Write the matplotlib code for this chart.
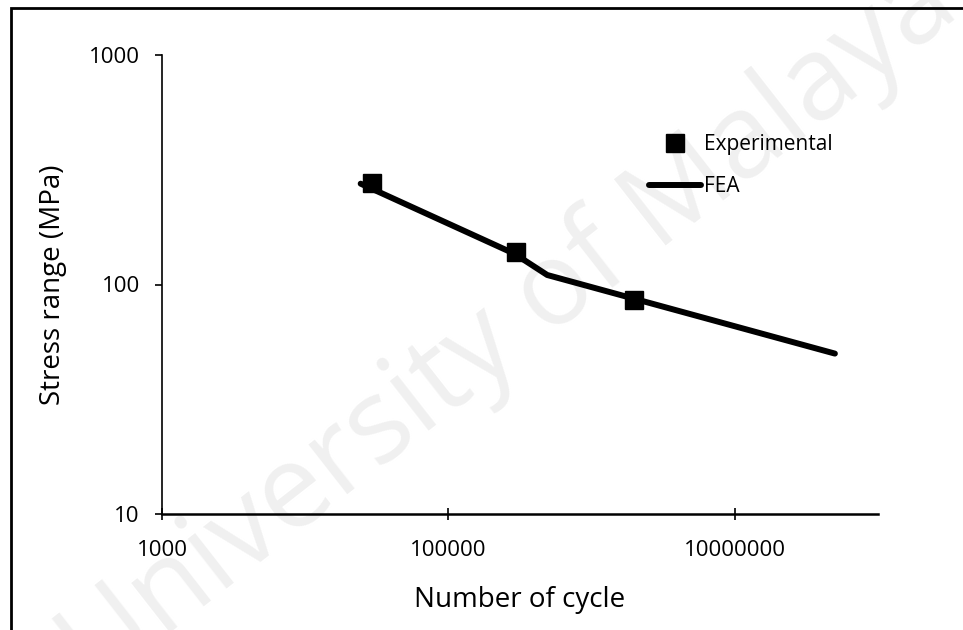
import matplotlib.pyplot as plt
from matplotlib.patches import Rectangle
from matplotlib.ticker import FixedLocator, FixedFormatter, NullLocator

# Data (log-log S-N curve)
exp_cycles = [29500, 298000, 1980000]
exp_stress = [278, 139, 86]

fea_cycles = [24400, 290000, 490000, 50000000]
fea_stress = [275, 136, 110, 50]

x_ticks = [1000, 100000, 10000000]
x_labels = ["1000", "100000", "10000000"]
y_ticks = [10, 100, 1000]
y_labels = ["10", "100", "1000"]

plt.rcParams['font.family'] = ['Open Sans', 'DejaVu Sans']

fig = plt.figure(figsize=(9.63, 6.3), dpi=100)
W, H = 963, 630
ax = fig.add_axes([162 / W, 1 - 514 / H, (878 - 162) / W, (514 - 55) / H])
ax.set_zorder(2)
ax.patch.set_alpha(0)

# faint watermark behind the chart
fig.text(0.53, 0.48, "University of Malaya", fontsize=84, color='#f0f0f0',
         rotation=38, ha='center', va='center', zorder=0)

ax.plot(fea_cycles, fea_stress, color='black', lw=4.3, solid_capstyle='round',
        solid_joinstyle='round', label='FEA', zorder=3)
ax.plot(exp_cycles, exp_stress, ls='none', marker='s', ms=13, color='black',
        label='Experimental', zorder=4)

ax.set_xscale('log')
ax.set_yscale('log')
ax.set_xlim(1000, 1e8)
ax.set_ylim(10, 1000)
ax.xaxis.set_major_locator(FixedLocator(x_ticks))
ax.xaxis.set_major_formatter(FixedFormatter(x_labels))
ax.yaxis.set_major_locator(FixedLocator(y_ticks))
ax.yaxis.set_major_formatter(FixedFormatter(y_labels))
ax.xaxis.set_minor_locator(NullLocator())
ax.yaxis.set_minor_locator(NullLocator())

for s in ['top', 'right']:
    ax.spines[s].set_visible(False)
ax.spines['bottom'].set_linewidth(1.8)
ax.spines['left'].set_linewidth(1.2)
ax.tick_params(axis='x', direction='inout', length=9, width=1.2, labelsize=16, pad=14)
ax.tick_params(axis='y', direction='out', length=5, width=1.2, labelsize=16, pad=11)

ax.set_xlabel('Number of cycle', fontsize=20, labelpad=18)
ax.set_ylabel('Stress range (MPa)', fontsize=20, labelpad=16)

handles, labels = ax.get_legend_handles_labels()
ax.legend(handles[::-1], labels[::-1], loc='upper left',
          bbox_to_anchor=(649 / W, 1 - 134 / H), bbox_transform=fig.transFigure,
          frameon=False, fontsize=15, handlelength=2.5, handletextpad=0.15,
          labelspacing=1.0, borderpad=0, borderaxespad=0)

# outer chart border (cropped at right and bottom)
fig.patches.append(Rectangle((11 / W, -0.05), 1.2, 1 - 8 / H + 0.05,
                             transform=fig.transFigure, fill=False,
                             edgecolor='black', lw=2, zorder=1))

fig.savefig('out.png', dpi=100)
